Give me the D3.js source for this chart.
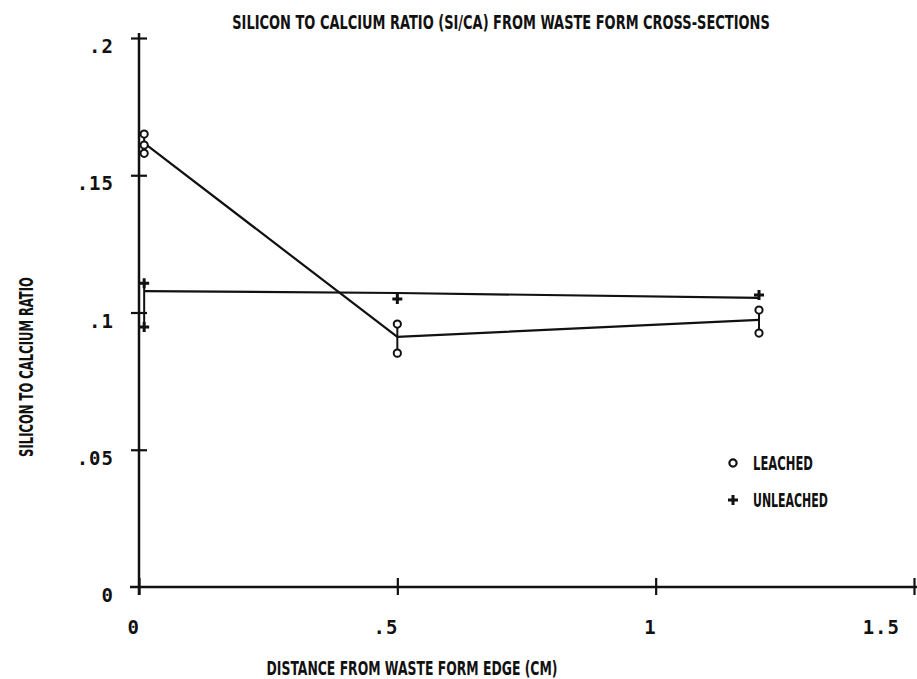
<!DOCTYPE html>
<html>
<head>
<meta charset="utf-8">
<script src="https://cdn.jsdelivr.net/npm/d3@7"></script>
<style>
  html, body { margin: 0; padding: 0; background: #fff; }
  svg { display: block; }
</style>
</head>
<body>
<script>
// ---- data ----
const distances = [0.01, 0.5, 1.2];
const leachedMean = [0.1617, 0.0911, 0.0973];
const unleachedMean = [0.1078, 0.1071, 0.1053];
const leachedPoints = [[0.165, 0.161, 0.158], [0.0958, 0.0852], [0.1009, 0.0925]];
const unleachedPoints = [[0.1107, 0.0947], [0.1049], [0.1064]];
const xTicks = [0, 0.5, 1, 1.5];
const xTickLabels = ["0", ".5", "1", "1.5"];
const yTicks = [0, 0.05, 0.1, 0.15, 0.2];
const yTickLabels = ["0", ".05", ".1", ".15", ".2"];
const seriesNames = ["LEACHED", "UNLEACHED"];
const titleText = "SILICON TO CALCIUM RATIO (SI/CA) FROM WASTE FORM CROSS-SECTIONS";
const xTitle = "DISTANCE FROM WASTE FORM EDGE (CM)";
const yTitle = "SILICON TO CALCIUM RATIO";

// ---- layout ----
const W = 917, H = 679;
const svg = d3.select("body").append("svg").attr("width", W).attr("height", H);
const x = d3.scaleLinear().domain([0, 1.5]).range([139, 914]);
const y = d3.scaleLinear().domain([0, 0.2]).range([587, 38]);
const ink = "#111";
const condFont = "'DejaVu Sans Condensed', 'DejaVu Sans', sans-serif";
const monoFont = "'DejaVu Sans Mono', monospace";

// narrow text: keep glyph height, squeeze horizontally to a target width
function narrowText(parent, str, cx, cy, targetW, anchor, rotate) {
  const g = parent.append("g").attr("transform", `translate(${cx},${cy})${rotate ? " rotate(-90)" : ""}`);
  const t = g.append("text").attr("x", 0).attr("y", 0).attr("text-anchor", anchor)
    .attr("font-family", condFont).attr("font-weight", "bold").attr("font-size", 19)
    .attr("fill", ink).text(str);
  const w = t.node().getComputedTextLength();
  t.attr("transform", `scale(${targetW / w},1)`);
  return g;
}

// title
narrowText(svg, titleText, 501, 29, 538, "middle", false);

// x axis
const xAxis = svg.append("g").attr("transform", `translate(0,${y(0)})`)
  .call(d3.axisBottom(x).tickValues(xTicks).tickSizeOuter(0).tickFormat(""));
xAxis.select(".domain").attr("d", `M130,0H${W}`).attr("stroke", ink).attr("stroke-width", 2.5);
xAxis.selectAll(".tick line").attr("y1", -9).attr("y2", 8).attr("stroke", ink).attr("stroke-width", 2.2);

// y axis
const yAxis = svg.append("g").attr("transform", `translate(${x(0)},0)`)
  .call(d3.axisLeft(y).tickValues(yTicks).tickSizeOuter(0).tickFormat(""));
yAxis.select(".domain").attr("d", `M0,${y(0.2) - 5}V${y(0) + 8}`).attr("stroke", ink).attr("stroke-width", 2.5);
yAxis.selectAll(".tick line").attr("x1", -8).attr("x2", 8).attr("stroke", ink).attr("stroke-width", 2.2);
yAxis.selectAll(".tick").filter(d => d === 0).select("line").remove();

// tick labels
svg.append("g").selectAll("text").data(xTicks).join("text")
  .attr("x", (d) => Math.min(x(d) + 1, 900)).attr("y", 634)
  .attr("text-anchor", "end").attr("font-family", monoFont).attr("font-weight", "bold")
  .attr("font-size", 19).attr("letter-spacing", 1).attr("fill", ink)
  .text((d, i) => xTickLabels[i]);
svg.append("g").selectAll("text").data(yTicks).join("text")
  .attr("x", 114).attr("y", d => y(d) + 15)
  .attr("text-anchor", "end").attr("font-family", monoFont).attr("font-weight", "bold")
  .attr("font-size", 19).attr("letter-spacing", 1).attr("fill", ink)
  .text((d, i) => yTickLabels[i]);

// axis titles
narrowText(svg, xTitle, 412, 675, 291, "middle", false);
narrowText(svg, yTitle, 33, 367, 180, "middle", true);

// lines
const line = d3.line().x(d => x(d[0])).y(d => y(d[1]));
svg.append("path").datum(distances.map((d, i) => [d, leachedMean[i]]))
  .attr("d", line).attr("fill", "none").attr("stroke", ink).attr("stroke-width", 2.2);
svg.append("path").datum(distances.map((d, i) => [d, unleachedMean[i]]))
  .attr("d", line).attr("fill", "none").attr("stroke", ink).attr("stroke-width", 2.2);

// range sticks
function sticks(pts) {
  svg.append("g").selectAll("line").data(pts.map((p, i) => [distances[i], d3.min(p), d3.max(p)]).filter(d => d[1] !== d[2]))
    .join("line")
    .attr("x1", d => x(d[0])).attr("x2", d => x(d[0]))
    .attr("y1", d => y(d[1])).attr("y2", d => y(d[2]))
    .attr("stroke", ink).attr("stroke-width", 2);
}
sticks(leachedPoints);
sticks(unleachedPoints);

// markers
const plusPath = (r) => `M${-r},0H${r}M0,${-r}V${r}`;
const lp = leachedPoints.flatMap((p, i) => p.map(v => [distances[i], v]));
const up = unleachedPoints.flatMap((p, i) => p.map(v => [distances[i], v]));
svg.append("g").selectAll("circle").data(lp).join("circle")
  .attr("cx", d => x(d[0])).attr("cy", d => y(d[1])).attr("r", 3.6)
  .attr("fill", "#fff").attr("stroke", ink).attr("stroke-width", 2);
svg.append("g").selectAll("path").data(up).join("path")
  .attr("transform", d => `translate(${x(d[0])},${y(d[1])})`)
  .attr("d", plusPath(5)).attr("stroke", ink).attr("stroke-width", 3);

// legend
const leg = svg.append("g").attr("transform", "translate(733,463)");
leg.append("circle").attr("cx", 0).attr("cy", 0).attr("r", 3.6)
  .attr("fill", "#fff").attr("stroke", ink).attr("stroke-width", 2.2);
leg.append("path").attr("transform", "translate(0,37)").attr("d", plusPath(5))
  .attr("stroke", ink).attr("stroke-width", 3);
seriesNames.forEach((name, i) => {
  narrowText(leg, name, 20, 7 + i * 37, [60, 75][i], "start", false);
});
</script>
</body>
</html>
